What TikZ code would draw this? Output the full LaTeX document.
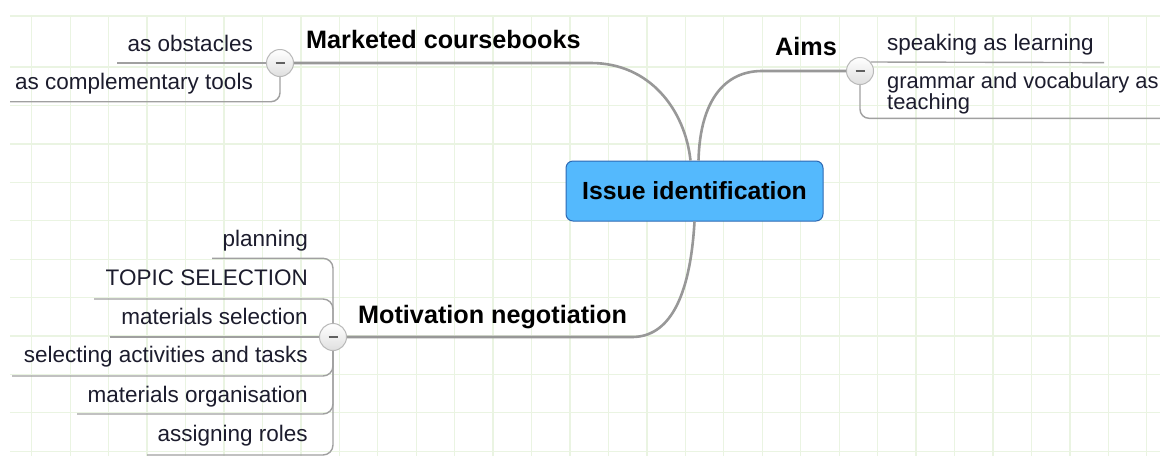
\documentclass[tikz,border=0pt]{standalone}
\usepackage{fontspec}
\setmainfont{Liberation Sans}
\usepackage{tikz}
\usetikzlibrary{calc}
\definecolor{paper}{RGB}{234, 244, 226}
\definecolor{branch}{RGB}{152, 152, 152}
\definecolor{twig}{RGB}{160, 160, 160}
\definecolor{sky}{RGB}{84, 185, 253}
\definecolor{skyedge}{RGB}{45, 105, 180}
\definecolor{ink}{RGB}{28, 28, 45}

\begin{document}
\begin{tikzpicture}[x=1pt, y=-1pt,
  topic/.style={font=\fontsize{25.2}{25.2}\selectfont\bfseries, inner sep=0pt},
  leaf/.style={font=\fontsize{22.5}{19}\selectfont, text=ink, inner sep=0pt},
  root/.style={draw=skyedge, fill=sky, line width=1pt, rounded corners=7pt,
    minimum width=257pt, minimum height=60pt, font=\fontsize{24.8}{24.8}\selectfont\bfseries},
  toggle/.style={circle, draw=gray!55, line width=1pt, top color=white, bottom color=gray!25,
    minimum size=27pt, inner sep=0pt},
  mainline/.style={branch, line width=2.6pt},
  subline/.style={twig, line width=1.4pt}]
  \useasboundingbox (0, 0) rectangle (1160, 459);
  \clip (0, 0) rectangle (1160, 459);
  \fill[white] (0, 0) rectangle (1160, 459);

  % background grid
  \foreach \gx in {0, ..., 29}
    \draw[paper, line width=1.3pt] ({31.7 + 38.45*\gx}, 16) -- ++(0, 440);
  \foreach \gy in {16, 67, 105.6, 144, 182.4, 220.8, 259.2, 297.6, 336, 374.4, 412.8, 451.2}
    \draw[paper, line width=1.3pt] (10, \gy) -- (1160, \gy);

  \node[root] (issue) at (694.5, 191) {Issue identification};

  \node[topic, anchor=base west] (mkt) at (306, 48) {Marketed coursebooks};
  \node[topic, anchor=base west] (aims) at (775, 55) {Aims};
  \node[topic, anchor=base west] (motiv) at (358, 323) {Motivation negotiation};

  \node[toggle] (mktc) at (280, 63) {\textcolor{gray!75!black}{\rule{9pt}{2.6pt}}};
  \node[toggle] (aimsc) at (860, 71) {\textcolor{gray!75!black}{\rule{9pt}{2.6pt}}};
  \node[toggle] (motivc) at (333, 337) {\textcolor{gray!75!black}{\rule{9pt}{2.6pt}}};

  % main branches
  \coordinate (mktbend) at (591, 63);
  \coordinate (aimsbend) at (762, 71);
  \coordinate (motivbend) at (632, 337);
  \draw[mainline] ($(issue.north) + (-4, 0)$) .. controls (685, 110) and (650, 63) .. (mktbend) -- (mktc);
  \draw[mainline] ($(issue.north) + (4, 0)$) .. controls (700, 100) and (725, 71) .. (aimsbend) -- (aimsc);
  \draw[mainline] (issue.south) .. controls (690, 300) and (668, 337) .. (motivbend) -- (motivc);

  % Marketed coursebooks
  \node[leaf, anchor=base east] (obst) at (253, 51) {as obstacles};
  \node[leaf, anchor=base east] (compl) at (253, 89.3) {as complementary tools};
  \coordinate (obstl) at (117, 63);
  \coordinate (compll) at (10, 101.7);
  \draw[subline] (mktc) -- (obstl);
  \draw[subline, rounded corners=9pt] (mktc.south) |- (compll);

  % Aims
  \node[leaf, anchor=base west] (speak) at (887, 50) {speaking as learning};
  \node[leaf, anchor=north west, align=left, font=\fontsize{21.9}{19}\selectfont] (gram) at (887, 72.5)
    {grammar and vocabulary as\\teaching};
  \coordinate (speakr) at (1104, 62.6);
  \coordinate (gramr) at (1160, 118.3);
  \draw[subline] (aimsc.40) -- (speakr);
  \draw[subline, rounded corners=9pt] (aimsc.south) |- (gramr);

  % Motivation negotiation
  \node[leaf, anchor=base east] (plan) at (308, 246.7) {planning};
  \node[leaf, anchor=base east] (topsel) at (308, 285) {TOPIC SELECTION};
  \node[leaf, anchor=base east] (matsel) at (308, 324) {materials selection};
  \node[leaf, anchor=base east] (acts) at (308, 362.7) {selecting activities and tasks};
  \node[leaf, anchor=base east] (matorg) at (308, 402.7) {materials organisation};
  \node[leaf, anchor=base east] (roles) at (308, 441.7) {assigning roles};
  \coordinate (planl) at (212, 258.3);
  \coordinate (topsell) at (94, 299);
  \coordinate (matsell) at (110, 337);
  \coordinate (actsl) at (12, 376);
  \coordinate (matorgl) at (77, 414);
  \coordinate (rolesl) at (147, 455);
  \draw[subline, rounded corners=10pt] (motivc.north) |- (planl);
  \draw[subline, rounded corners=10pt] (motivc.north) |- (topsell);
  \draw[subline] (motivc) -- (matsell);
  \draw[subline, rounded corners=10pt] (motivc.south) |- (actsl);
  \draw[subline, rounded corners=10pt] (motivc.south) |- (matorgl);
  \draw[subline, rounded corners=10pt] (motivc.south) |- (rolesl);

\end{tikzpicture}
\end{document}
